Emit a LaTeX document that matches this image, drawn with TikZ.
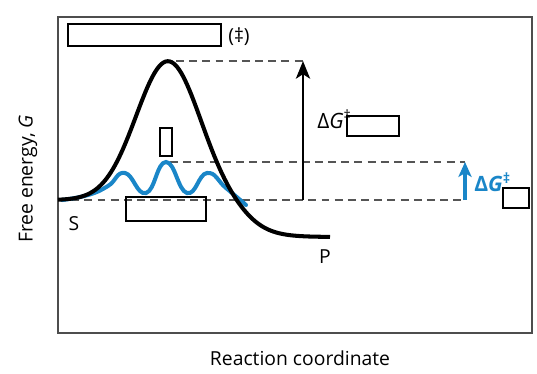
\documentclass[tikz,border=0pt]{standalone}
\usepackage{fontspec}
\setmainfont{Open Sans}
\usetikzlibrary{arrows.meta}
\definecolor{catblue}{HTML}{1A86C8}
\definecolor{framegray}{HTML}{4D4D4D}
\definecolor{dashgray}{HTML}{555555}
\tikzset{
  phbox/.style={draw, line width=0.75pt, inner sep=0pt},
  levelline/.style={dashgray, line width=0.7pt, dash pattern=on 4.5pt off 3pt},
  lbl/.style={inner sep=0pt, font=\fontsize{11}{13}\selectfont}
}
\begin{document}
\begin{tikzpicture}[x=0.02cm,y=-0.02cm]
				\useasboundingbox (0,0) rectangle (537,373);
				\draw[framegray, line width=0.9pt] (58,17) rectangle (532,333);
				% levels
				\coordinate (S0) at (58,200);
				\coordinate (TSpeak) at (176,61);
				\coordinate (CATpeak) at (170,162);
				\coordinate (bigBase) at (303,200);
				\coordinate (bigTop) at (303,61);
				\coordinate (catBase) at (465,200);
				\coordinate (catTop) at (465,162);
				\draw[levelline] (TSpeak) -- (bigTop);
				\draw[levelline] (CATpeak) -- (catTop);
				\draw[levelline] (S0) -- (catBase);
				% catalysed path
				\draw[catblue, line width=2.3pt, line cap=round] plot[smooth, tension=0.8] coordinates {(62,200) (88,195) (108,186) (125,173) (146,193) (166,162) (187,193) (207,173) (226,188) (246,205)};
				% uncatalysed path
				\draw[black, line width=2.3pt] plot[domain=58:330, samples=140] (\x, {200 + 37/(1+exp(-max(min((\x-245)/15,7),-7))) - 139*exp(-min(((\x-168)/45)^2,12))});
				% arrows
				\draw[line width=1.7pt, -{Stealth[length=10pt,width=8pt,inset=2.5pt]}] (bigBase) -- (bigTop);
				\draw[catblue, line width=1.8pt, -{Stealth[length=8.5pt,width=7.5pt,inset=2.2pt]}] (catBase) -- (catTop);
				% placeholders
				\node[phbox, minimum width=3.06cm, minimum height=0.44cm] (boxTS) at (144.5,35) {};
				\node[lbl, anchor=west] (dagger) at (228,37) {(‡)};
				\node[phbox, minimum width=0.24cm, minimum height=0.56cm] (boxCat) at (166,142) {};
				\node[phbox, minimum width=1.6cm, minimum height=0.48cm] (boxS) at (166,209) {};
				\node[lbl, anchor=base west, font=\fontsize{12}{14}\selectfont] (dGbig) at (317,128) {Δ\textit{G}\textsuperscript{‡}};
				\node[phbox, minimum width=1.04cm, minimum height=0.4cm] (boxBig) at (373,126) {};
				\node[lbl, anchor=base west, catblue, font=\fontsize{12}{14}\selectfont\bfseries] (dGcat) at (474,191) {Δ\textit{G}\textsuperscript{‡}};
				\node[phbox, minimum width=0.52cm, minimum height=0.4cm] (boxCatG) at (516,198) {};
				% labels
				\node[lbl] (S) at (74,224) {S};
				\node[lbl] (P) at (325,257) {P};
				\node[lbl] (xlab) at (300,358) {Reaction coordinate};
				\node[lbl, rotate=90] (ylab) at (28,179) {Free energy, \textit{G}};
			\end{tikzpicture}
\end{document}
